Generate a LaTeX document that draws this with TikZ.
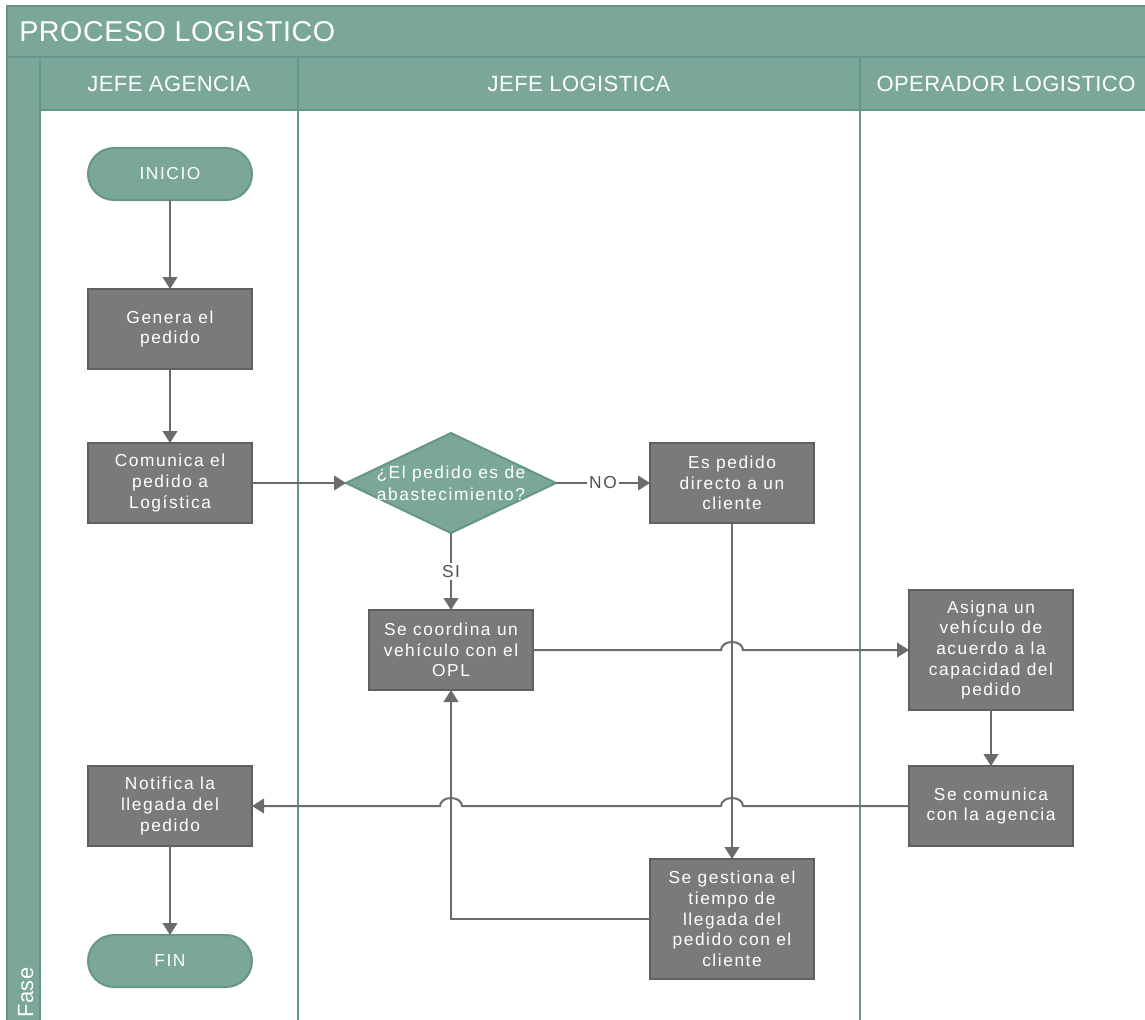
\documentclass[tikz,border=0pt]{standalone}
\usepackage{fontspec}
\setmainfont{Liberation Sans}[LetterSpace=2]
\newfontfamily\cajafont{Liberation Sans}[LetterSpace=9]
\usetikzlibrary{positioning,arrows.meta,shapes.geometric,calc}
\definecolor{verdeazul}{HTML}{7BA69A}
\definecolor{borde}{HTML}{66968A}
\definecolor{grisc}{HTML}{7A7A7A}
\definecolor{grisb}{HTML}{5F5F5F}
\definecolor{linea}{HTML}{6B6B6B}

\begin{document}
\begin{tikzpicture}[x=0.75pt, y=-0.75pt,
      caja/.style={draw=grisb, fill=grisc, line width=1.5pt, minimum width=123pt,
                   minimum height=60pt, align=center, text=white, inner sep=2pt, outer sep=0pt,
                   font=\cajafont\fontsize{13}{15.5}\selectfont},
      alta/.style={caja, minimum height=90pt},
      term/.style={draw=borde, fill=verdeazul, line width=1.5pt, rounded corners=19.5pt,
                   minimum width=123pt, minimum height=39pt, text=white, outer sep=0pt,
                   font=\cajafont\fontsize{13}{15.5}\selectfont},
      decis/.style={diamond, draw=borde, fill=verdeazul, line width=1.5pt, outer sep=0pt,
                    minimum width=157.5pt, minimum height=75pt, inner sep=0pt},
      marco/.style={draw=borde, fill=verdeazul, line width=2pt},
      cab/.style={text=white, inner sep=0pt, font=\fontsize{16.5}{20}\selectfont},
      f/.style={-{Triangle[length=9pt,width=11pt]}, draw=linea, line width=1.5pt},
      et/.style={fill=white, text=linea!75!black, inner sep=1.5pt,
                 font=\cajafont\fontsize{13}{15}\selectfont}]
    \clip (0,0) rectangle (1145,1020);
    \fill[white] (0,0) rectangle (1145,1020);

    % carriles
    \draw[marco] (7,6) rectangle (1160,57);
    \draw[marco] (7,57) rectangle (40,1030);
    \draw[marco] (40,57) rectangle (298,110);
    \draw[marco] (298,57) rectangle (860,110);
    \draw[marco] (860,57) rectangle (1160,110);
    \draw[borde, line width=2pt] (40,110) -- (40,1030) (298,110) -- (298,1030) (860,110) -- (860,1030);

    \node[cab, anchor=west, font=\fontsize{21.5}{26}\selectfont] (titulo) at (19,32) {PROCESO LOGISTICO};
    \node[cab] (jefeag) at (169,84) {JEFE AGENCIA};
    \node[cab] (jefelog) at (579,84) {JEFE LOGISTICA};
    \node[cab] (operador) at (1006,84) {OPERADOR LOGISTICO};
    \node[cab, rotate=90, anchor=base west] (fase) at (33,1018) {Fase};

    % pasos
    \node[term] (inicio) at (170,174) {INICIO};
    \node[caja, below=66.75pt of inicio] (genera) {Genera el\\pedido};
    \node[caja, below=55.5pt of genera] (comunica) {Comunica el\\pedido a\\Logística};
    \node[decis, right=70.5pt of comunica] (decision) {};
    \node[align=center, text=white, inner sep=0pt, font=\cajafont\fontsize{13}{16.5}\selectfont]
         (pregunta) at (decision) {¿El pedido es de\\abastecimiento?};
    \node[caja, right=70.5pt of decision] (directo) {Es pedido\\directo a un\\cliente};
    \node[caja, below=57.75pt of decision] (coordina) {Se coordina un\\vehículo con el\\OPL};
    \node[alta, right=282pt of coordina] (asigna) {Asigna un\\vehículo de\\acuerdo a la\\capacidad del\\pedido};
    \node[caja, below=42pt of asigna] (comag) {Se comunica\\con la agencia};
    \node[caja, below=182.25pt of comunica] (notifica) {Notifica la\\llegada del\\pedido};
    \node[alta, below=252pt of directo] (gestiona) {Se gestiona el\\tiempo de\\llegada del\\pedido con el\\cliente};
    \node[term, below=66.75pt of notifica] (fin) {FIN};

    % flechas
    \draw[f] (inicio) -- (genera);
    \draw[f] (genera) -- (comunica);
    \draw[f] (comunica) -- (decision);
    \draw[f] (decision) -- node[et]{NO} (directo);
    \draw[f] (decision) -- node[et]{SI} (coordina);
    \draw[f] (directo) -- (gestiona);
    \draw[f] (coordina) -- ($(coordina.east -| directo.south)+(-11,0)$)
          arc[start angle=180, end angle=0, x radius=8.25pt, y radius=6pt] -- (asigna);
    \draw[f] (asigna) -- (comag);
    \draw[f] (comag) -- ($(comag.west -| directo.south)+(11,0)$)
          arc[start angle=0, end angle=180, x radius=8.25pt, y radius=6pt]
          -- ($(comag.west -| coordina.south)+(11,0)$)
          arc[start angle=0, end angle=180, x radius=8.25pt, y radius=6pt] -- (notifica);
    \draw[f] (gestiona) -| (coordina);
    \draw[f] (notifica) -- (fin);
\end{tikzpicture}
\end{document}
